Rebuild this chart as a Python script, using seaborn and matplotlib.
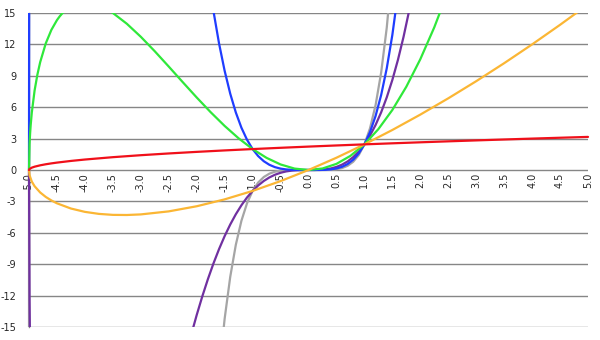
import matplotlib
matplotlib.use("Agg")
import matplotlib.pyplot as plt
from matplotlib.transforms import Bbox
import seaborn as sns
import pandas as pd

# ---- data ----
red_x = [-5, -4.99, -4.95, -4.9, -4.8, -4.7, -4.6, -4.5, -4.25, -4, -3.5, -3, -2.5, -2, -1.5, -1,
         -0.5, 0, 0.5, 1, 1.5, 2, 2.5, 3, 3.5, 4, 4.5, 5]
red_y = [0, 0.1, 0.224, 0.316, 0.447, 0.548, 0.632, 0.707, 0.866, 1.0, 1.225, 1.414, 1.581, 1.732,
         1.871, 2.0, 2.121, 2.236, 2.345, 2.449, 2.550, 2.646, 2.739, 2.828, 2.915, 3.0, 3.082, 3.162]

orange_x = [-5, -4.99, -4.95, -4.9, -4.8, -4.7, -4.6, -4.5, -4.25, -4, -3.75, -3.5, -3.25, -3, -2.5,
            -2, -1.5, -1, -0.5, 0, 0.5, 1, 1.5, 2, 2.5, 3, 3.5, 4, 4.5, 5]
orange_y = [0, -0.499, -1.107, -1.549, -2.147, -2.574, -2.909, -3.182, -3.681, -4.0, -4.193, -4.287,
            -4.299, -4.243, -3.953, -3.464, -2.806, -2.0, -1.061, 0, 1.173, 2.449, 3.824, 5.292,
            6.847, 8.485, 10.204, 12.0, 13.870, 15.811]

green_x = [-5, -4.99, -4.98, -4.97, -4.95, -4.9, -4.85, -4.8, -4.7, -4.6, -4.5, -4.45, -4.4, -4.3,
           -4, -3.6, -3.5, -3.25, -3, -2.75, -2.5, -2.25, -2, -1.75, -1.5, -1.25, -1, -0.75, -0.5,
           -0.25, 0, 0.25, 0.5, 0.75, 1, 1.25, 1.5, 1.75, 2, 2.25, 2.5]
green_y = [0, 2.49, 3.507, 4.278, 5.479, 7.592, 9.110, 10.304, 12.099, 13.384, 14.319, 14.686,
           14.996, 15.470, 16.0, 15.334, 15.003, 13.973, 12.728, 11.344, 9.882, 8.395, 6.928, 5.521,
           4.209, 3.026, 2.0, 1.160, 0.530, 0.136, 0, 0.143, 0.586, 1.349, 2.449, 3.906, 5.736,
           7.957, 10.583, 13.631, 17.116]

gray_x = [-5, -4.99, -1.6, -1.5, -1.4, -1.3, -1.2, -1.1, -1.0, -0.9, -0.8, -0.7, -0.6, -0.5, -0.4,
          -0.3, -0.2, -0.1, 0, 0.1, 0.2, 0.3, 0.4, 0.5, 0.6, 0.7, 0.8, 0.9, 1.0, 1.1, 1.2, 1.3,
          1.4, 1.5]
gray_y = [0, -310.0, -19.335, -14.207, -10.204, -7.142, -4.850, -3.180, -2.0, -1.196, -0.672,
          -0.349, -0.163, -0.066, -0.022, -0.005, -0.0007, 0, 0, 0, 0.0007, 0.006, 0.024, 0.073,
          0.184, 0.401, 0.789, 1.434, 2.449, 3.978, 6.196, 9.319, 13.606, 19.360]

purple_x = [-5, -4.99, -4.98, -2.1, -2.0, -1.9, -1.8, -1.7, -1.6, -1.5, -1.4, -1.3, -1.2, -1.1,
            -1.0, -0.9, -0.8, -0.7, -0.6, -0.5, -0.4, -0.3, -0.2, -0.1, 0, 0.1, 0.2, 0.3, 0.4,
            0.5, 0.6, 0.7, 0.8, 0.9, 1.0, 1.1, 1.2, 1.3, 1.4, 1.5, 1.6, 1.7, 1.8]
purple_y = [0, -12.4, -17.47, -15.771, -13.856, -12.077, -10.433, -8.925, -7.553, -6.314, -5.207,
            -4.226, -3.369, -2.628, -2.0, -1.476, -1.049, -0.711, -0.453, -0.265, -0.137, -0.059,
            -0.018, -0.002, 0, 0.002, 0.018, 0.062, 0.149, 0.293, 0.511, 0.819, 1.233, 1.771,
            2.449, 3.287, 4.303, 5.514, 6.942, 8.605, 10.523, 12.717, 15.208]

blue_x = [-5, -4.99, -1.8, -1.7, -1.6, -1.5, -1.4, -1.3, -1.2, -1.1, -1.0, -0.9, -0.8, -0.7, -0.6,
          -0.5, -0.4, -0.3, -0.2, -0.1, 0, 0.1, 0.2, 0.3, 0.4, 0.5, 0.6, 0.7, 0.8, 0.9, 1.0, 1.1,
          1.2, 1.3, 1.4, 1.5, 1.6]
blue_y = [0, 62.0, 18.779, 15.172, 12.084, 9.471, 7.289, 5.494, 4.042, 2.891, 2.0, 1.328, 0.839,
          0.498, 0.272, 0.133, 0.055, 0.018, 0.004, 0.0002, 0, 0.0002, 0.004, 0.019, 0.059,
          0.147, 0.307, 0.573, 0.986, 1.594, 2.449, 3.616, 5.163, 7.169, 9.719, 12.907, 16.836]

x_ticks = [-5.0, -4.5, -4.0, -3.5, -3.0, -2.5, -2.0, -1.5, -1.0, -0.5, 0.0,
           0.5, 1.0, 1.5, 2.0, 2.5, 3.0, 3.5, 4.0, 4.5, 5.0]
y_ticks = [15, 12, 9, 6, 3, 0, -3, -6, -9, -12, -15]

series = [
    ("gray", gray_x, gray_y, "#a5a5a5"),
    ("purple", purple_x, purple_y, "#7030a0"),
    ("blue", blue_x, blue_y, "#1f3dff"),
    ("green", green_x, green_y, "#2fe83a"),
    ("orange", orange_x, orange_y, "#fbb634"),
    ("red", red_x, red_y, "#f0101a"),
]

sns.set_style("white")
plt.rcParams["font.family"] = ["DejaVu Sans"]

fig = plt.figure(figsize=(6.0, 3.4), dpi=100)
ax = fig.add_axes([29 / 600, 1 - 327 / 340, (588 - 29) / 600, (327 - 13) / 340])

for name, xs, ys, col in series:
    df = pd.DataFrame({"x": xs, "y": ys})
    sns.lineplot(data=df, x="x", y="y", ax=ax, color=col, linewidth=1.6,
                 sort=False, estimator=None, legend=False)

ax.set_xlim(-5, 5)
ax.set_ylim(-15, 15)
ax.set_xlabel("")
ax.set_ylabel("")

# let the curves keep their full width at the left edge (x = -5)
x0, y0, x1, y1 = ax.bbox.extents
clip = Bbox.from_extents(x0 - 3, y0, x1 + 3, y1)
for ln in ax.lines:
    ln.set_clip_box(clip)
    ln.set_zorder(3)

for y in y_ticks:
    ax.axhline(y, color="#868686", linewidth=1.0, zorder=0)

for s in ["top", "right", "bottom"]:
    ax.spines[s].set_visible(False)
ax.spines["left"].set_color("#868686")
ax.spines["left"].set_linewidth(1.0)
ax.spines["left"].set_zorder(0)
ax.spines["bottom"].set_position(("data", 0))

ax.set_yticks(y_ticks)
ax.set_yticklabels([str(v) for v in y_ticks], fontsize=7)
ax.set_xticks(x_ticks)
ax.set_xticklabels([f"{v:.1f}" for v in x_ticks], fontsize=7, rotation=90)
ax.tick_params(axis="both", length=0)
ax.tick_params(axis="x", pad=2)
ax.tick_params(axis="y", pad=9)

fig.savefig("out.png", dpi=100)
